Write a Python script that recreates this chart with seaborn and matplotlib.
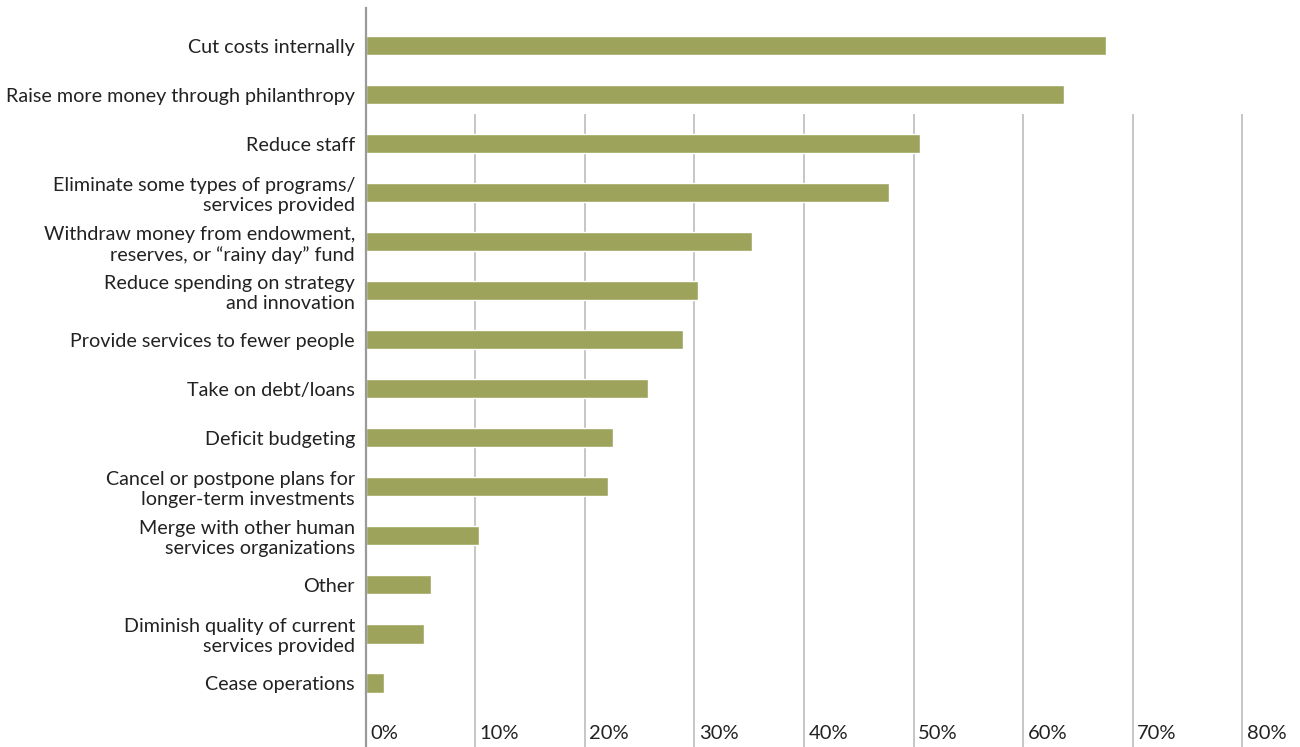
import matplotlib
matplotlib.use("Agg")
import matplotlib.pyplot as plt
import matplotlib.transforms as mtransforms
import seaborn as sns
import pandas as pd

categories = [
    "Cut costs internally",
    "Raise more money through philanthropy",
    "Reduce staff",
    "Eliminate some types of programs/\nservices provided",
    "Withdraw money from endowment,\nreserves, or \u201crainy day\u201d fund",
    "Reduce spending on strategy\nand innovation",
    "Provide services to fewer people",
    "Take on debt/loans",
    "Deficit budgeting",
    "Cancel or postpone plans for\nlonger-term investments",
    "Merge with other human\nservices organizations",
    "Other",
    "Diminish quality of current\nservices provided",
    "Cease operations",
]
values = [67.6, 63.7, 50.6, 47.8, 35.3, 30.3, 29.0, 25.8, 22.6, 22.1, 10.4, 6.0, 5.3, 1.7]
tick_values = [0, 10, 20, 30, 40, 50, 60, 70, 80]
tick_labels = ["0%", "10%", "20%", "30%", "40%", "50%", "60%", "70%", "80%"]

df = pd.DataFrame({"category": categories, "value": values})

sns.set_theme(style="white")
plt.rcParams["font.family"] = ["Lato", "DejaVu Sans"]

W, H = 1300, 747
fig = plt.figure(figsize=(W / 100, H / 100), dpi=100)
x0 = 365.5
step = 10.96
left = x0 / W
top = 8 / H
ax = fig.add_axes([left, 0.0, 1.0 - left, 1.0 - top])

bar_color = "#9da35b"
sns.barplot(data=df, x="value", y="category", color=bar_color, width=0.39,
            saturation=1, ax=ax, orient="h")

ax.set_xlim(0, (W - x0) / step)
ax.set_ylim(14.305, -0.765)

# gridlines (start below second bar)
ax.vlines(tick_values[1:], ymin=14.305, ymax=1.39, colors="#c6c6c6", linewidth=1.4, zorder=0)

for s in ["top", "right", "bottom"]:
    ax.spines[s].set_visible(False)
ax.spines["left"].set_color("#9a9a9a")
ax.spines["left"].set_linewidth(1.6)

ax.set_xlabel("")
ax.set_ylabel("")
ax.set_xticks(tick_values)
ax.set_xticklabels(tick_labels)
ax.tick_params(axis="x", length=0, pad=-16, labelsize=14.5, colors="#222222")
ax.tick_params(axis="y", length=0, pad=7.5, labelsize=14.2, colors="#222222")
offset = mtransforms.ScaledTranslation(4.5 / 100, 0, fig.dpi_scale_trans)
for lab in ax.get_xticklabels():
    lab.set_horizontalalignment("left")
    lab.set_transform(lab.get_transform() + offset)
for lab in ax.get_yticklabels():
    lab.set_linespacing(1.2)

fig.savefig("out.png", dpi=100)
